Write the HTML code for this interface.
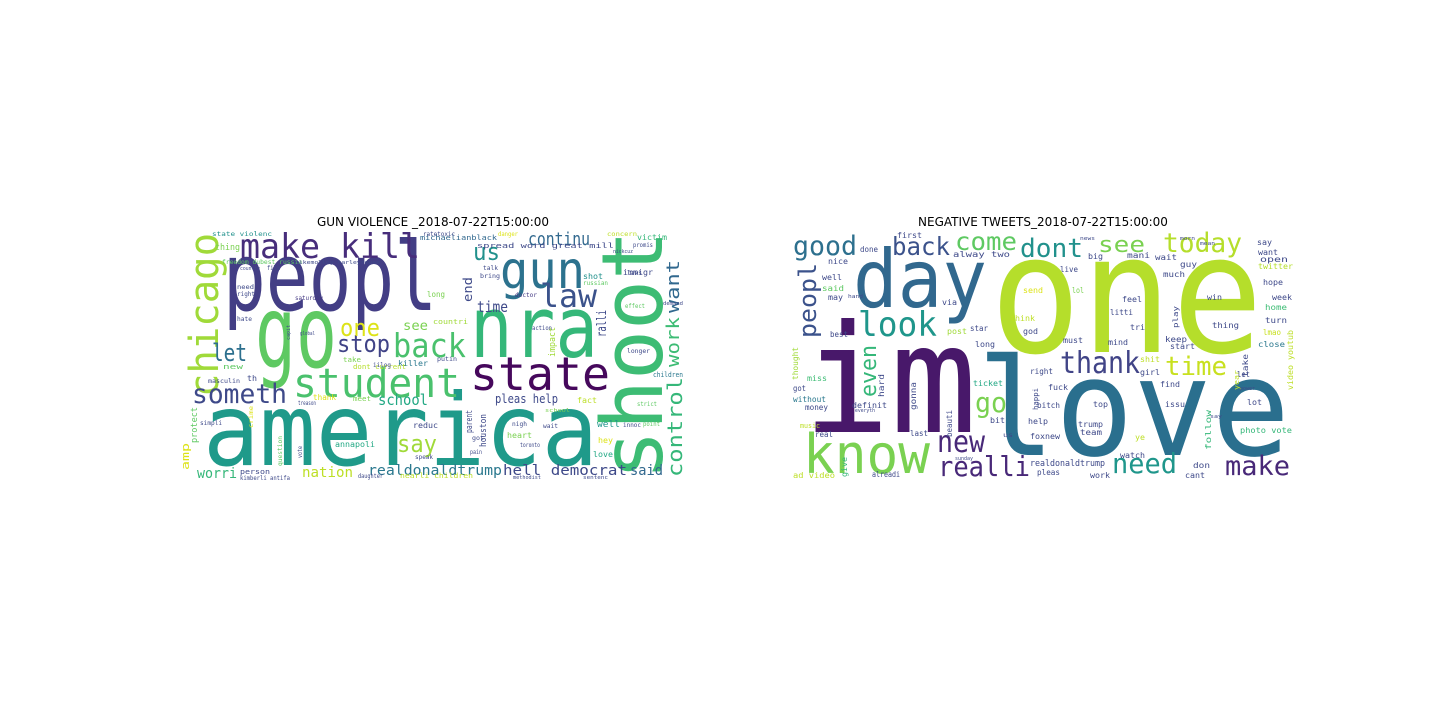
<!DOCTYPE html>
<html><head><meta charset="utf-8"><style>
html,body{margin:0;padding:0;background:#fff;}
svg{display:block;}
text{font-family:"DejaVu Sans Mono","Liberation Mono",monospace;}
.title{font-family:"DejaVu Sans","Liberation Sans",sans-serif;font-size:12px;fill:#000;}
</style></head><body>
<svg id="chart" width="1440" height="720" viewBox="0 0 1440 720">
<rect width="1440" height="720" fill="#fff"/>
<text class="title" x="433" y="226" text-anchor="middle">GUN VIOLENCE _2018-07-22T15:00:00</text>
<text class="title" x="1043" y="226" text-anchor="middle">NEGATIVE TWEETS_2018-07-22T15:00:00</text>
<g id="left"></g>
<g id="right"></g>
</svg>
<script>
// word, x, baseline y, font size, text length, colour, rotated(1 = vertical up)
const leftWords = [
["peopl",223,310,95,214,"#433e85",0],
["america",203,465,100,395,"#1f9a8a",0],
["go",255,367,100,82,"#5ec962",0],
["nra",470,357,85,128,"#35b779",0],
["state",470,390,46,140,"#46085c",0],
["shoot",662,480,85,250,"#3dbc74",1],
["gun",500,288,52,85,"#2c728e",0],
["law",540,307,32,57,"#3b528b",0],
["chicago",218,397,40,164,"#a0da39",1],
["make kill",240,258,34,180,"#472d7b",0],
["student",293,397,40,167,"#4ac16d",0],
["someth",192,403,27,95,"#3e4989",0],
["back",393,357,33,73,"#4ac16d",0],
["stop",337,352,24,53,"#404387",0],
["one",340,336,24,40,"#dde318",0],
["let",212,361,24,35,"#2d708e",0],
["us",473,260,24,27,"#21918c",0],
["continu",528,245,18,62,"#31688e",0],
["want",679,313,18,53,"#31688e",1],
["work",679,367,18,50,"#3dbc74",1],
["control",682,477,20,100,"#35b779",1],
["realdonaldtrump",368,475,14,134,"#2a788e",0],
["hell democrat",503,475,14,124,"#3e4989",0],
["said",630,475,14,33,"#31688e",0],
["nation",302,477,14,51,"#bddf26",0],
["worri",197,478,14,40,"#35b779",0],
["say",397,452,24,40,"#a0da39",0],
["school",378,405,15,50,"#22a884",0],
["pleas help",495,403,12,63,"#3e4989",0],
["time",477,312,15,31,"#3e4989",0],
["ralli",606,337,13,27,"#3e4989",1],
["end",472,302,12,25,"#3e4989",1],
["amp",189,470,11,27,"#dde318",1],
["protect",197,443,9,36,"#5ec962",1],
["impact",555,357,9,30,"#a0da39",1],
["houston",486,447,9,33,"#3e4989",1],
["parent",472,433,9,23,"#3e4989",1],
["thing",215,250,9,25,"#7ad151",0],
["michaelianblack",420,240,7,77,"#31688e",0],
["spread word great mill",477,248,7,137,"#3e4989",0],
["victim",637,240,8,30,"#35b779",0],
["immigr",623,275,8,30,"#3e4989",0],
["shot",583,279,8,20,"#21918c",0],
["doctor",515,297,6,22,"#443983",0],
["long",427,297,8,18,"#7ad151",0],
["countri",433,324,7,35,"#a0da39",0],
["see",403,330,13,25,"#7ad151",0],
["take",343,362,7,18,"#7ad151",0],
["killer",398,366,8,30,"#2a788e",0],
["th",247,381,8,10,"#3e4989",0],
["thank",313,400,8,23,"#dde318",0],
["meet",353,401,7,18,"#7ad151",0],
["fact",577,403,8,20,"#bddf26",0],
["well",597,427,9,23,"#1f968b",0],
["reduc",413,428,8,25,"#3e4989",0],
["annapoli",335,447,8,40,"#22a884",0],
["heart",507,438,8,25,"#7ad151",0],
["hey",598,443,8,15,"#dde318",0],
["love",593,457,8,20,"#22a884",0],
["person",240,474,7,30,"#3e4989",0],
["toronto",520,447,6,20,"#3e4989",0],
["nearli children",400,478,7,73,"#bddf26",0],
["saturday",295,300,6,28,"#443983",0],
["film",267,270,6,13,"#3e4989",0],
["need",237,289,6,17,"#3e4989",0],
["right",237,296,6,18,"#3e4989",0],
["hate",237,321,6,15,"#3e4989",0],
["talk",483,270,6,15,"#3e4989",0],
["bring",480,278,6,20,"#3e4989",0],
["putin",437,361,6,20,"#3e4989",0],
["dont current",353,369,7,53,"#b5de2b",0],
["children",653,377,7,30,"#2a788e",0],
["longer",627,353,6,23,"#3e4989",0],
["strict",637,406,6,20,"#5ec962",0],
["point",643,426,6,17,"#5ec962",0],
["simpli",200,425,6,22,"#3e4989",0],
["kimberli antifa",240,480,6,50,"#3e4989",0],
["treason",298,405,6,18,"#3e4989",0],
["masculin",208,383,6,32,"#3e4989",0],
["new",223,369,7,20,"#5ec962",0],
["freedom dubest russia",222,264,6,80,"#5ec962",0],
["mikemolloy harleyrouse",295,264,5,85,"#3e4989",0],
["state violenc",212,236,6,60,"#21918c",0],
["ratetoxic",423,236,6,32,"#3e4989",0],
["nickcuz",613,253,5,20,"#3e4989",0],
["russian",583,285,6,25,"#5ec962",0],
["action",532,330,6,20,"#3e4989",0],
["country",240,270,5,20,"#3e4989",0],
["school",545,412,5,25,"#7ad151",0],
["global",300,335,5,15,"#3e4989",0],
["capit",290,340,5,15,"#3e4989",1],
["iilog",373,367,6,18,"#3e4989",0],
["speak",415,459,6,18,"#3e4989",0],
["daughter",358,478,6,25,"#3e4989",0],
["methodist",513,479,5,28,"#3e4989",0],
["sentenc",583,479,5,25,"#3e4989",0],
["crime",253,428,6,22,"#dde318",1],
["question",282,466,6,30,"#5ec962",1],
["vote",302,458,6,12,"#3e4989",1],
["got",472,440,6,12,"#3e4989",0],
["pain",470,454,6,12,"#3e4989",0],
["nigh",512,426,6,15,"#3e4989",0],
["wait",543,428,6,15,"#3e4989",0],
["innoc",623,427,6,18,"#3e4989",0],
["danger",498,236,6,20,"#dde318",0],
["concern",607,236,6,30,"#bddf26",0],
["promis",633,247,6,20,"#3e4989",0],
["laws",627,275,6,15,"#3e4989",0],
["effect",625,308,6,20,"#5ec962",0],
["demand",663,305,5,20,"#3e4989",0]
];
const rightWords = [
["one",990,352,165,273,"#b5de2b",0],
["im",803,432,150,174,"#48186a",0],
["love",977,455,135,313,"#2a6f8e",0],
["day",853,307,80,134,"#31688e",0],
["know",803,473,54,127,"#7ad151",0],
["look",858,336,34,79,"#1f968b",0],
["good",793,255,27,64,"#2d708e",0],
["back",892,255,25,58,"#3b528b",0],
["come",955,250,25,62,"#5ec962",0],
["dont",1020,257,26,63,"#21918c",0],
["see",1098,252,22,47,"#7ad151",0],
["today",1163,252,27,79,"#b5de2b",0],
["peopl",816,338,24,75,"#3b528b",1],
["even",876,397,22,52,"#35b779",1],
["thank",1060,373,30,80,"#414487",0],
["time",1165,375,26,62,"#c8e020",0],
["go",975,412,28,32,"#7ad151",0],
["new",937,452,30,48,"#482878",0],
["realli",938,476,28,92,"#482878",0],
["need",1112,473,28,65,"#1f968b",0],
["make",1225,475,27,65,"#482878",0],
["realdonaldtrump",1030,466,9,75,"#3e4989",0],
["ad video",793,478,8,42,"#bddf26",0],
["thought",798,380,8,33,"#a0da39",1],
["video youtub",1293,390,8,60,"#bddf26",1],
["follow",1211,450,8,40,"#35b779",1],
["take",1248,377,8,23,"#3e4989",1],
["gonna",916,410,8,28,"#3e4989",1],
["hard",884,397,8,23,"#3e4989",1],
["beauti",952,437,8,27,"#3e4989",1],
["give",847,477,8,20,"#35b779",1],
["year",1239,390,7,20,"#bddf26",1],
["happi",1038,410,7,22,"#3e4989",1],
["play",1178,328,7,22,"#3e4989",1],
["first",897,238,8,25,"#3e4989",0],
["done",860,252,8,18,"#3e4989",0],
["nice",828,264,8,20,"#3e4989",0],
["well",822,280,8,20,"#3e4989",0],
["said",822,291,8,22,"#5ec962",0],
["may",828,300,8,15,"#3e4989",0],
["best",830,337,8,18,"#3e4989",0],
["miss",807,381,8,20,"#3dbc74",0],
["got",793,391,8,13,"#3e4989",0],
["without",793,402,8,33,"#2a788e",0],
["money",805,410,8,23,"#3e4989",0],
["definit",852,408,8,35,"#3e4989",0],
["real",815,437,8,18,"#3e4989",0],
["last",910,436,8,18,"#3e4989",0],
["alreadi",872,477,8,28,"#3e4989",0],
["alway two",953,257,8,57,"#3e4989",0],
["via",942,305,8,15,"#3e4989",0],
["post",947,334,8,20,"#a0da39",0],
["star",970,331,8,18,"#3e4989",0],
["long",975,347,8,20,"#3e4989",0],
["ticket",973,386,8,30,"#22a884",0],
["lol",1072,293,8,12,"#7ad151",0],
["live",1060,272,8,18,"#3e4989",0],
["mani",1127,258,8,23,"#3e4989",0],
["big",1088,259,8,15,"#3e4989",0],
["wait",1155,260,8,22,"#3e4989",0],
["guy",1180,267,8,17,"#3e4989",0],
["much",1163,277,8,22,"#3e4989",0],
["say",1257,245,8,15,"#3e4989",0],
["want",1258,255,8,20,"#3e4989",0],
["open",1260,262,8,28,"#3e4989",0],
["twitter",1258,269,8,35,"#b5de2b",0],
["hope",1263,285,8,20,"#3e4989",0],
["week",1272,300,8,20,"#3e4989",0],
["home",1265,310,8,22,"#3dbc74",0],
["turn",1265,323,8,22,"#3e4989",0],
["thing",1212,328,8,27,"#3e4989",0],
["lmao",1263,335,8,18,"#c8e020",0],
["close",1258,347,8,27,"#2a788e",0],
["keep",1165,342,8,22,"#3e4989",0],
["start",1170,349,8,25,"#3e4989",0],
["shit",1140,362,8,20,"#bddf26",0],
["mind",1108,345,8,20,"#3e4989",0],
["must",1063,343,8,20,"#3e4989",0],
["feel",1122,302,8,20,"#3e4989",0],
["litti",1110,315,8,23,"#3e4989",0],
["tri",1130,330,8,15,"#3e4989",0],
["win",1207,300,8,15,"#3e4989",0],
["girl",1140,375,8,20,"#3e4989",0],
["find",1160,387,8,20,"#3e4989",0],
["let",1237,377,8,13,"#3e4989",0],
["lot",1247,405,8,15,"#3e4989",0],
["issu",1165,407,8,20,"#3e4989",0],
["photo vote",1240,433,8,52,"#35b779",0],
["top",1093,407,8,15,"#3e4989",0],
["help",1028,424,8,20,"#3e4989",0],
["trump",1078,427,8,25,"#3e4989",0],
["team",1080,435,8,22,"#3e4989",0],
["foxnew",1030,439,8,30,"#3e4989",0],
["fuck",1048,390,8,20,"#3e4989",0],
["right",1030,374,8,23,"#3e4989",0],
["bitch",1037,408,8,23,"#3e4989",0],
["bit",990,423,8,15,"#3e4989",0],
["pleas",1037,475,8,23,"#3e4989",0],
["work",1090,478,8,20,"#3e4989",0],
["cant",1185,478,8,20,"#3e4989",0],
["don",1193,468,8,17,"#3e4989",0],
["watch",1120,458,8,25,"#3e4989",0],
["ye",1135,440,8,10,"#bddf26",0],
["think",1010,321,8,25,"#bddf26",0],
["god",1023,334,8,15,"#3e4989",0],
["send",1023,293,8,20,"#dde318",0],
["music",800,428,7,20,"#bddf26",0],
["us",1003,437,6,10,"#3e4989",0],
["hand",848,298,5,15,"#3e4989",0],
["everyth",855,412,5,20,"#3e4989",0],
["morn",1180,240,5,15,"#3e4989",0],
["mean",1200,245,5,15,"#3e4989",0],
["news",1080,240,5,15,"#3e4989",0],
["power",1240,390,5,15,"#3e4989",0],
["sunday",955,460,5,18,"#3e4989",0],
["say",1210,418,5,12,"#3e4989",0]
];
function draw(groupId, words, name) {
  const g = document.getElementById(groupId);
  const ns = "http://www.w3.org/2000/svg";
  words.forEach(function (w) {
    const t = document.createElementNS(ns, "text");
    t.setAttribute("x", w[1]);
    t.setAttribute("y", w[2]);
    t.setAttribute("font-size", w[3]);
    t.setAttribute("textLength", w[4]);
    t.setAttribute("lengthAdjust", "spacingAndGlyphs");
    t.setAttribute("fill", w[5]);
    if (w[6]) t.setAttribute("transform", "rotate(-90 " + w[1] + " " + w[2] + ")");
    t.textContent = w[0];
    
    
    g.appendChild(t);
  });
}
draw("left", leftWords, "gun");
draw("right", rightWords, "negative");
</script>
</body></html>
